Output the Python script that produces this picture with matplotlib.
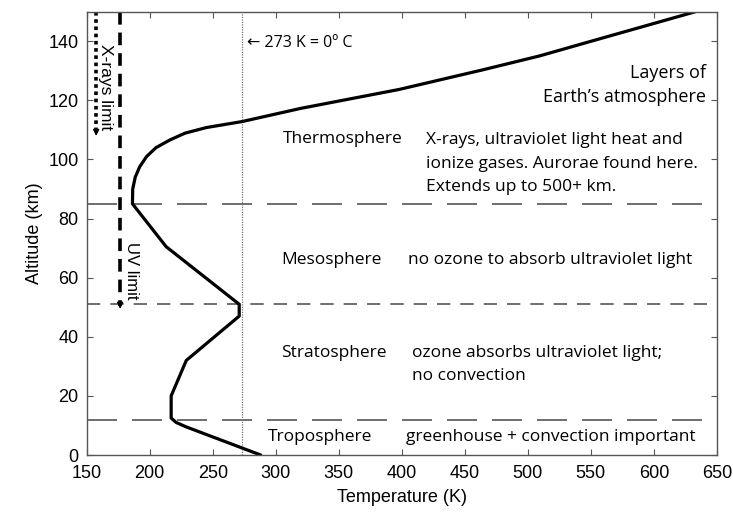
import matplotlib
matplotlib.use("Agg")
import matplotlib.pyplot as plt

# Temperature profile
temperature = [288, 229, 221, 217, 217, 229, 271, 271, 213, 186.3, 186.5, 188.5,
               192, 197.5, 205, 216, 228, 245, 273, 320, 398, 464, 509, 556, 633]
altitude = [0, 9.5, 11, 12.5, 20, 32, 47, 51, 70.5, 85, 90, 94,
            97.5, 101, 104, 106.6, 108.9, 110.8, 112.8, 117.3, 123.7, 130.3, 135, 140.7, 150]

# layer boundaries (km)
tropopause = 12
stratopause = 51
mesopause = 85
freezing_k = 273

xray_limit = 107
uv_limit = 48.5

label_font = ["Open Sans", "DejaVu Sans"]
tick_font = "Liberation Sans"

fig = plt.figure(figsize=(7.33, 5.15), dpi=100)
ax = fig.add_axes([0.1183, 0.1165, 0.8597, 0.8608])

# layer boundary lines
gray = "#555555"
ax.axhline(mesopause, color=gray, lw=1.2, dashes=(18, 9))
ax.axhline(tropopause, color=gray, lw=1.2, dashes=(18, 9))
ax.axhline(stratopause, color=gray, lw=1.2, dashes=(8, 6))
ax.axvline(freezing_k, color="#777777", lw=0.9, ls=(0, (1, 1)))

# temperature curve
ax.plot(temperature, altitude, color="black", lw=2.3,
        solid_joinstyle="round", solid_capstyle="round")

# X-ray and UV penetration limits
ax.plot([157.5, 157.5], [150, xray_limit + 2], color="black", lw=2.6, ls=(0, (1, 1)))
ax.annotate("", xy=(157.5, xray_limit), xytext=(157.5, xray_limit + 3),
            arrowprops=dict(arrowstyle="-|>", color="black", lw=1, mutation_scale=9))
ax.plot([176.5, 176.5], [150, uv_limit + 2], color="black", lw=2.6, ls=(0, (3.5, 2.2)))
ax.annotate("", xy=(176.5, uv_limit), xytext=(176.5, uv_limit + 3),
            arrowprops=dict(arrowstyle="-|>", color="black", lw=1, mutation_scale=9))

ax.text(164.8, 124.4, "X-rays limit", rotation=-90, ha="center", va="center",
        fontsize=12.5, family=tick_font)
ax.text(185.8, 62.5, "UV limit", rotation=-90, ha="center", va="center",
        fontsize=12, family=tick_font)

ax.text(277, 139.3, "\u2190 273 K = 0\u00ba C", ha="left", va="center",
        fontsize=11.5, family=label_font)

# layer annotations
fs = 12.5
ax.text(306, 107, "Thermosphere", ha="left", va="center", fontsize=fs, family=label_font)
ax.text(419, 98.6, "X-rays, ultraviolet light heat and\nionize gases. Aurorae found here.\nExtends up to 500+ km.",
        ha="left", va="center", fontsize=fs, family=label_font, linespacing=1.6)
ax.text(304, 66, "Mesosphere", ha="left", va="center", fontsize=fs, family=label_font)
ax.text(405, 66, "no ozone to absorb ultraviolet light", ha="left", va="center",
        fontsize=fs, family=label_font)
ax.text(304, 34.5, "Stratosphere", ha="left", va="center", fontsize=fs, family=label_font)
ax.text(408, 30.5, "ozone absorbs ultraviolet light;\nno convection", ha="left", va="center",
        fontsize=fs, family=label_font, linespacing=1.6)
ax.text(293.5, 6.2, "Troposphere", ha="left", va="center", fontsize=fs, family=label_font)
ax.text(403, 6.2, "greenhouse + convection important", ha="left", va="center",
        fontsize=fs, family=label_font)

ax.text(641, 125.3, "Layers of\nEarth\u2019s atmosphere", ha="right", va="center",
        fontsize=13, family=label_font, multialignment="right", linespacing=1.45)

# axes styling
ax.set_xlim(150, 650)
ax.set_ylim(0, 150)
ax.set_xticks(range(150, 651, 50))
ax.set_yticks(range(0, 141, 20))
ax.tick_params(direction="in", top=True, right=True, length=4, color="#555555",
               labelsize=13)
ax.tick_params(axis="x", pad=7)
ax.tick_params(axis="y", pad=6)
for lab in ax.get_xticklabels() + ax.get_yticklabels():
    lab.set_family(tick_font)
for sp in ax.spines.values():
    sp.set_color("#555555")
    sp.set_linewidth(1)

ax.set_xlabel("Temperature (K)", fontsize=13, family=tick_font, labelpad=5)
ax.set_ylabel("Altitude (km)", fontsize=13, family=tick_font, labelpad=4)

fig.savefig("out.png", dpi=100)
